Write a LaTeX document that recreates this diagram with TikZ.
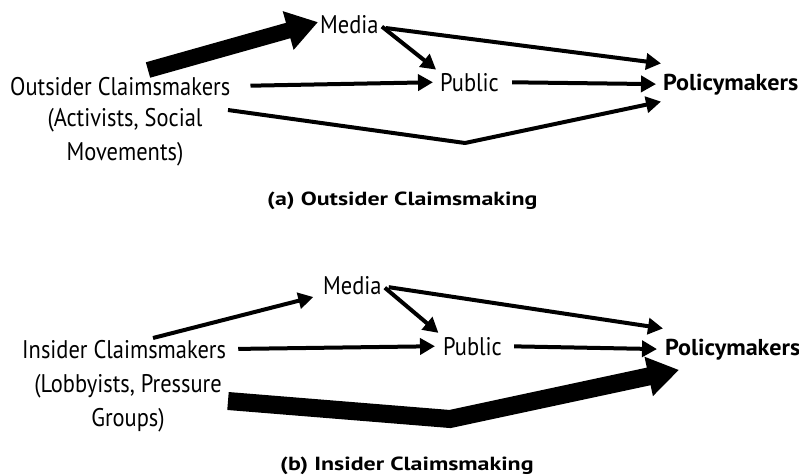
\documentclass[tikz,border=0pt]{standalone}
\usepackage{fontspec}
\setmainfont[FakeStretch=0.88]{PT Sans}
\newfontfamily\targetfont[FakeStretch=1.05]{PT Sans}
\newfontfamily\captionfont[FakeStretch=1.26]{PT Sans}
\usetikzlibrary{arrows.meta}
\begin{document}
\begin{tikzpicture}[x=1pt,y=-1pt,
  lbl/.style={inner sep=0pt, anchor=base west, font=\fontsize{25.5}{33}\selectfont},
  note/.style={inner sep=0pt, align=center, anchor=north, font=\fontsize{25.5}{34}\selectfont},
  target/.style={inner xsep=2pt, inner ysep=10pt, anchor=base west, font=\targetfont\bfseries\fontsize{23}{30}\selectfont},
  caption/.style={inner sep=0pt, anchor=base west, font=\captionfont\bfseries\fontsize{19}{24}\selectfont},
  link/.style={line width=4pt, -{Triangle[width=16pt,length=15pt]}},
  heavy/.style={line width=16pt, line join=miter, -{Triangle[width=38pt,length=31pt]}},
]
\useasboundingbox (0,0) rectangle (799,474);

% ---------- (a) outsider claimsmaking ----------
\node[lbl]  (outs)     at (10,95)  {Outsider Claimsmakers};
\node[note] (outsnote) at (125,108) {(Activists, Social\\Movements)};
\node[lbl]  (mediaA)   at (320,33) {Media};
\node[lbl]  (publicA)  at (440,91) {Public};
\node[target] (policyA) at (661,90) {Policymakers};
\node[caption] (capA)  at (267,205) {(a) Outsider Claimsmaking};

\coordinate (outsTail) at (148,70);
\coordinate (outsLow)  at (228,110);
\coordinate (bendA)    at (465,143);

\draw[heavy] (outsTail) -- ([shift={(-2,-2)}]mediaA.west);
\draw[link, shorten <=20pt, shorten >=7pt] (outs.east) -- (publicA.west);
\draw[link, shorten <=4pt, shorten >=5pt] (mediaA.east) -- (publicA.north west);
\draw[link, shorten <=7pt] ([yshift=-3pt]mediaA.east) -- (policyA.north west);
\draw[link, shorten <=13pt, shorten >=5pt] (publicA.east) -- (policyA.west);
\draw[link, line join=round] (outsLow) -- (bendA) -- (policyA.194);

% ---------- (b) insider claimsmaking ----------
\node[lbl]  (ins)     at (22,358) {Insider Claimsmakers};
\node[note] (insnote) at (128,374) {(Lobbyists, Pressure\\Groups)};
\node[lbl]  (mediaB)  at (323,294) {Media};
\node[lbl]  (publicB) at (443,355) {Public};
\node[target] (policyB) at (663,355) {Policymakers};
\node[caption] (capB) at (280,470) {(b) Insider Claimsmaking};

\coordinate (insTail) at (153,338);
\coordinate (insLow)  at (228,401);
\coordinate (bendB)   at (450,419);

\draw[link, shorten >=10pt] (insTail) -- (mediaB.south west);
\draw[link, shorten <=12pt, shorten >=8pt] (ins.east) -- (publicB.west);
\draw[link, shorten <=4pt, shorten >=6pt] (mediaB.east) -- (publicB.north west);
\draw[link, shorten <=7pt] ([yshift=-1pt]mediaB.east) -- (policyB.north west);
\draw[link, shorten <=12pt, shorten >=6pt] (publicB.east) -- (policyB.west);
\draw[heavy, line width=18pt] (insLow) -- (bendB) -- ([xshift=16pt]policyB.south west);
\end{tikzpicture}
\end{document}
